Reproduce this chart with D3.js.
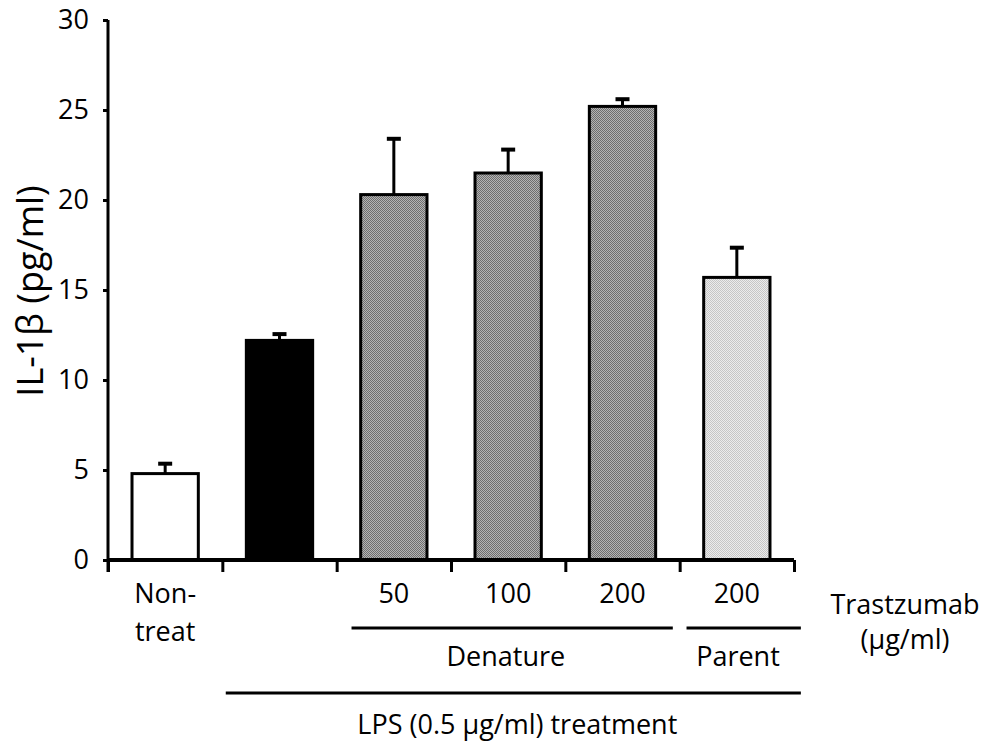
<!DOCTYPE html>
<html>
<head>
<meta charset="utf-8">
<script src="https://cdn.jsdelivr.net/npm/d3@7"></script>
<style>
  body { margin: 0; background: #fff; }
  svg text { font-family: "Open Sans", sans-serif; fill: #000; }
</style>
</head>
<body>
<div id="chart"></div>
<script>
// values
const categories = ["Non-treat", "LPS", "Denature 50", "Denature 100", "Denature 200", "Parent 200"];
const values = [4.8, 12.2, 20.3, 21.5, 25.2, 15.7];
const errors = [0.55, 0.35, 3.1, 1.3, 0.4, 1.65];
const catLabels = [["Non-", "treat"], [], ["50"], ["100"], ["200"], ["200"]];
const yTicks = [0, 5, 10, 15, 20, 25, 30];
// brackets under the axis, in category units (0..6)
const groupNames = ["Denature", "Parent"];
const groupSpans = [[2.13, 4.94], [5.06, 6.06]];
const groupCenters = [3.48, 5.51];
const treatName = "LPS (0.5 \u03bcg/ml) treatment";
const treatSpan = [1.03, 6.06];
const treatCenter = 3.58;
const unitLines = ["Trastzumab", "(\u03bcg/ml)"];
const yTitle = "IL-1\u03b2 (pg/ml)";

const W = 988, H = 743;
const conf = { left: 108, right: 794, top: 20, bottom: 560 };

const svg = d3.select("#chart").append("svg")
    .attr("width", W)
    .attr("height", H);

// stipple textures like the scanned print
const defs = svg.append("defs");
function stipple(id, a, b) {
    let p = defs.append("pattern")
        .attr("id", id)
        .attr("width", 2).attr("height", 2)
        .attr("patternUnits", "userSpaceOnUse");
    p.append("rect").attr("width", 2).attr("height", 2).attr("fill", a);
    p.append("rect").attr("width", 1).attr("height", 1).attr("fill", b);
    p.append("rect").attr("x", 1).attr("y", 1).attr("width", 1).attr("height", 1).attr("fill", b);
}
stipple("dark", "#b4b4b4", "#6e6e6e");
stipple("light", "#ececec", "#c6c6c6");
const barFill = ["#fff", "#000", "url(#dark)", "url(#dark)", "url(#dark)", "url(#light)"];

const x = d3.scaleBand()
    .domain(categories)
    .range([conf.left, conf.right])
    .paddingInner(0.42)
    .paddingOuter(0.21);

// category boundaries
const xi = d3.scaleLinear().domain([0, categories.length]).range([conf.left, conf.right]);

const y = d3.scaleLinear().domain([0, 30]).range([conf.bottom, conf.top]);

// bars
svg.append("g")
    .selectAll("rect")
    .data(values)
    .enter().append("rect")
        .attr("x", (d, i) => x(categories[i]))
        .attr("y", d => y(d))
        .attr("width", x.bandwidth())
        .attr("height", d => y(0) - y(d))
        .attr("fill", (d, i) => barFill[i])
        .attr("stroke", "#000")
        .attr("stroke-width", 3);

// error bars (upper only)
let err = svg.append("g").attr("stroke", "#000");
values.forEach((v, i) => {
    let cx = x(categories[i]) + x.bandwidth() / 2;
    err.append("line")
        .attr("x1", cx).attr("x2", cx)
        .attr("y1", y(v)).attr("y2", y(v + errors[i]))
        .attr("stroke-width", 3);
    err.append("line")
        .attr("x1", cx - 7).attr("x2", cx + 7)
        .attr("y1", y(v + errors[i])).attr("y2", y(v + errors[i]))
        .attr("stroke-width", 4);
});

// y axis
let yAxis = svg.append("g")
    .attr("transform", `translate(${conf.left},0)`)
    .call(d3.axisLeft(y).tickValues(yTicks).tickSize(5).tickPadding(14));
yAxis.select(".domain").attr("stroke-width", 3).attr("d", `M0,${conf.top}V${conf.bottom + 12}`);
yAxis.selectAll(".tick line").attr("stroke-width", 3);
yAxis.selectAll(".tick text")
    .style("font-size", "27px")
    .style("font-family", "'Open Sans', sans-serif");

// x axis: boundaries only
let xAxis = svg.append("g")
    .attr("transform", `translate(0,${conf.bottom})`)
    .call(d3.axisBottom(xi).ticks(categories.length).tickSize(12).tickFormat(""));
xAxis.select(".domain").attr("stroke-width", 4).attr("d", `M${conf.left},0H${conf.right}`);
xAxis.selectAll(".tick line").attr("stroke-width", 3);

// category labels
let lab = svg.append("g")
    .style("font-size", "27px")
    .attr("text-anchor", "middle");
catLabels.forEach((lines, i) => {
    lines.forEach((t, j) => {
        lab.append("text")
            .attr("x", x(categories[i]) + x.bandwidth() / 2)
            .attr("y", 603 + j * 38)
            .text(t);
    });
});

// group brackets
groupNames.forEach((g, i) => {
    svg.append("line")
        .attr("x1", xi(groupSpans[i][0])).attr("x2", xi(groupSpans[i][1]))
        .attr("y1", 628).attr("y2", 628)
        .attr("stroke", "#000").attr("stroke-width", 3);
    svg.append("text")
        .attr("x", xi(groupCenters[i]))
        .attr("y", 666)
        .attr("text-anchor", "middle")
        .style("font-size", "27px")
        .text(g);
});

svg.append("line")
    .attr("x1", xi(treatSpan[0])).attr("x2", xi(treatSpan[1]))
    .attr("y1", 693).attr("y2", 693)
    .attr("stroke", "#000").attr("stroke-width", 3);
svg.append("text")
    .attr("x", xi(treatCenter))
    .attr("y", 734)
    .attr("text-anchor", "middle")
    .style("font-size", "27px")
    .text(treatName);

// unit label at the right
unitLines.forEach((t, j) => {
    svg.append("text")
        .attr("x", 905)
        .attr("y", 614 + j * 35)
        .attr("text-anchor", "middle")
        .style("font-size", "27px")
        .text(t);
});

// y title
svg.append("text")
    .attr("transform", "translate(43,291) rotate(-90)")
    .attr("text-anchor", "middle")
    .style("font-size", "36px")
    .text(yTitle);
</script>
</body>
</html>
